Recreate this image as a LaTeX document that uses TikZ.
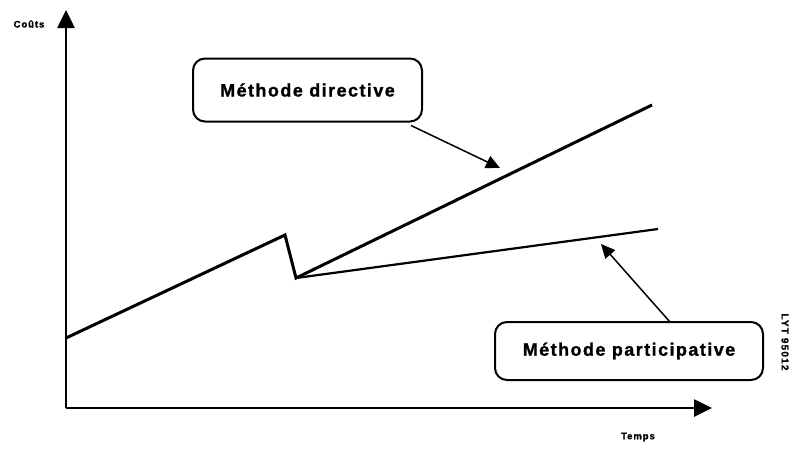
\documentclass[tikz,border=0pt]{standalone}
\usepackage{fontspec}
\setmainfont{Liberation Sans}[BoldFeatures={FakeBold=1.2}]
\usetikzlibrary{arrows.meta}
\begin{document}
\begin{tikzpicture}[x=1pt,y=-1pt,
  axis/.style={line width=2.6pt,-{Triangle[width=17pt,length=18pt]}},
  curve/.style={line width=3pt,line join=miter},
  callout/.style={draw,line width=2pt,rounded corners=12pt,inner sep=0pt,font=\fontsize{18}{20}\selectfont\bfseries\addfontfeatures{LetterSpace=8}},
  pointer/.style={line width=1.5pt,-{Triangle[width=13pt,length=14pt]}},
  lbl/.style={font=\fontsize{9.5}{11}\selectfont\bfseries\addfontfeatures{LetterSpace=10}}]
\useasboundingbox (0,0) rectangle (802,453);
\coordinate (O) at (66,408);
\coordinate (ytop) at (66,10);
\coordinate (xend) at (712,408);
\draw[axis] (O) -- (ytop);
\draw[axis] (O) -- (xend);
\node[lbl] (couts) at (29,24) {Coûts};
\node[lbl] (temps) at (638,437) {Temps};
\node[lbl,rotate=-90,font=\fontsize{10}{11}\selectfont\bfseries\addfontfeatures{LetterSpace=12}] (ref) at (785,342) {LYT 95012};
\coordinate (p0) at (66,338);
\coordinate (p1) at (285,235);
\coordinate (p2) at (296,278);
\coordinate (pa) at (652,105);
\coordinate (pb) at (658,229);
\draw[curve] (p0) -- (p1) -- (p2) -- (pa);
\draw[line width=2.2pt] (p2) -- (pb);
\node[callout,minimum width=229pt,minimum height=63pt] (dir) at (307.5,90) {Méthode directive};
\node[callout,minimum width=268pt,minimum height=58pt] (part) at (629,351) {Méthode participative};
\draw[pointer] (dir.south east) ++(-12,3) coordinate (s1) -- (500,168) coordinate (t1);
\draw[pointer] (670,322) coordinate (s2) -- (601,244) coordinate (t2);
\end{tikzpicture}
\end{document}
